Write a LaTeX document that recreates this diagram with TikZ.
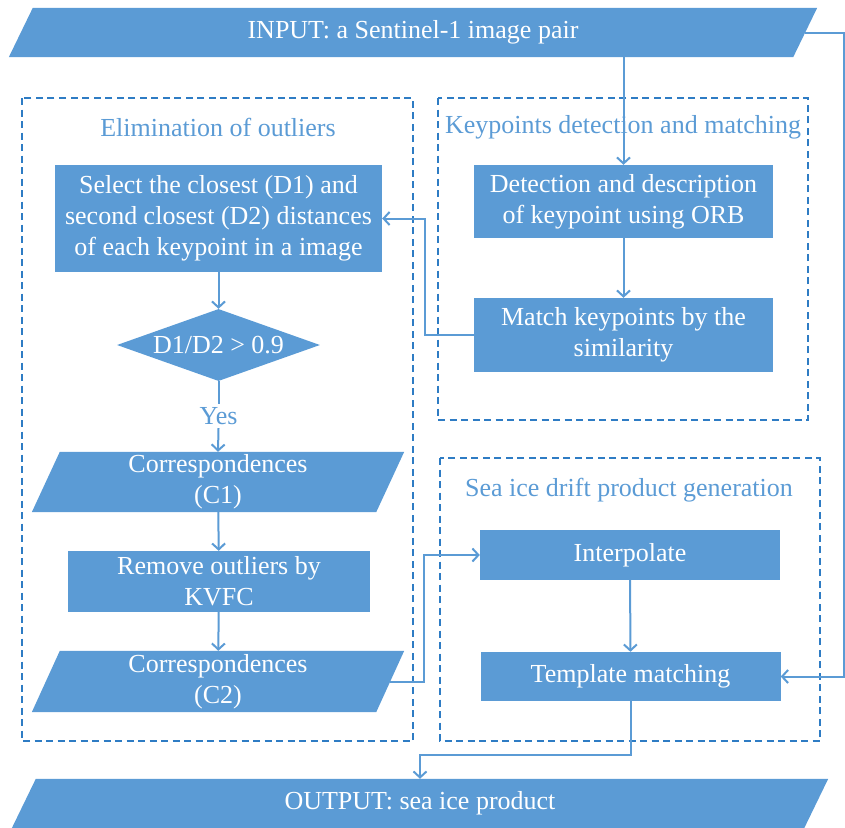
\documentclass[tikz,border=0pt]{standalone}
\usepackage{fontspec}
\setmainfont{Liberation Serif}
\usetikzlibrary{shapes.geometric,arrows.meta,backgrounds}
\definecolor{figblue}{HTML}{5B9BD5}
\definecolor{figframeblue}{HTML}{2E7CC4}
\tikzset{
  figbox/.style={fill=figblue, text=white, inner sep=0pt, align=center},
  figplg/.style={text=white, inner sep=0pt, align=center},
  figdiam/.style={diamond, fill=figblue, text=white, inner sep=0pt, aspect=2.8},
  figframe/.style={draw=figframeblue, line width=2pt, dash pattern=on 7pt off 4.5pt},
  figtitle/.style={text=figblue},
  figflow/.style={draw=figblue, line width=2pt, -{Straight Barb[length=6pt,width=13pt]}},
  figline/.style={draw=figblue, line width=2pt}
}

\begin{document}
\begin{tikzpicture}[x=1pt,y=-1pt,font=\fontsize{26}{31}\selectfont]
  \useasboundingbox (0,0) rectangle (845,827);
  % dashed group frames
  \draw[figframe] (22,98) rectangle (413,741);
  \draw[figframe] (438,98) rectangle (808,420);
  \draw[figframe] (440,458) rectangle (820,741);
  \node[figtitle] (elimtitle) at (218,127) {Elimination of outliers};
  \node[figtitle] (kptitle) at (623,127) {Keypoints detection and matching};
  \node[figtitle] (seatitle) at (629,490) {Sea ice drift product generation};
  % input / output
  \node[figplg, minimum width=784, minimum height=49] (input) at (413,32.5) {INPUT: a Sentinel-1 image pair};
  \node[figplg, minimum width=792, minimum height=49] (output) at (420,803.5) {OUTPUT: sea ice product};
  % keypoints
  \node[figbox, minimum width=299, minimum height=73] (detect) at (623.5,201.5) {Detection and description\\of keypoint using ORB};
  \node[figbox, minimum width=299, minimum height=74] (match) at (623.5,335) {Match keypoints by the\\similarity};
  % elimination of outliers
  \node[figbox, minimum width=327, minimum height=107] (select) at (218.5,218.5) {Select the closest (D1) and\\second closest (D2) distances\\of each keypoint in a image};
  \node[figdiam, minimum width=203, minimum height=72] (ratio) at (218.5,345) {D1/D2 > 0.9};
  \node[figtitle] (yes) at (218.5,416) {Yes};
  \node[figplg, minimum width=344, minimum height=60] (corrA) at (218,482) {Correspondences\\(C1)};
  \node[figbox, minimum width=302, minimum height=61] (remove) at (219,581.5) {Remove outliers by\\KVFC};
  \node[figplg, minimum width=344, minimum height=61] (corrB) at (218,681.5) {Correspondences\\(C2)};
  % product generation
  \node[figbox, minimum width=300, minimum height=50] (interp) at (630,555) {Interpolate};
  \node[figbox, minimum width=300, minimum height=49] (templ) at (630.5,676.5) {Template matching};
  % parallelogram bodies
  \begin{scope}[on background layer]
    \foreach \n/\s in {input/12,output/12,corrA/14,corrB/14} {
      \fill[figblue] ([xshift=\s]\n.north west) -- ([xshift=\s]\n.north east)
        -- ([xshift=-\s]\n.south east) -- ([xshift=-\s]\n.south west) -- cycle;
    }
  \end{scope}
  % connectors
  \coordinate (rim) at (844,676.5);
  \draw[figflow] (input.south -| detect.north) -- (detect.north);
  \draw[figflow] (detect) -- (match);
  \draw[figflow] (match.west) -- ++(-49,0) |- (select.east);
  \draw[figflow] (select) -- (ratio);
  \draw[figline] (ratio.south) -- (yes.north);
  \draw[figflow] (yes.south) -- (corrA.north);
  \draw[figflow] (corrA) -- (remove);
  \draw[figflow] (remove) -- (corrB);
  \draw[figflow] (corrB.east) -- ++(34,0) |- (interp.west);
  \draw[figflow] (interp) -- (templ);
  \draw[figflow] (templ.south) -- ++(0,54) -| (output.north);
  \draw[figflow] (input.east) -| (rim) -- (templ.east);
\end{tikzpicture}
\end{document}
